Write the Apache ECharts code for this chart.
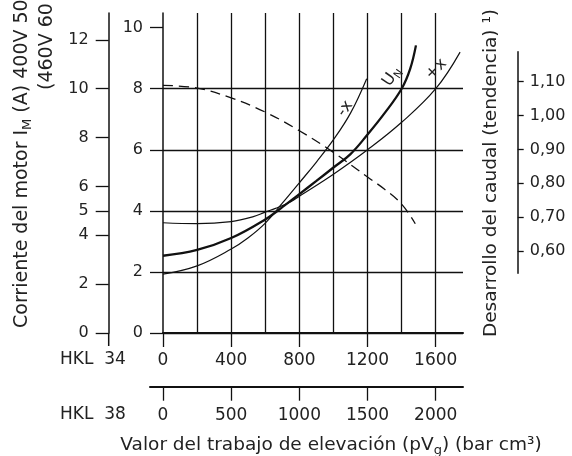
<!DOCTYPE html>
<html>
<head>
<meta charset="utf-8">
<script src="https://cdn.jsdelivr.net/npm/echarts@6/dist/echarts.min.js"></script>
<style>
  html, body { margin: 0; padding: 0; background: #fff; }
  #chart { width: 572px; height: 456px; }
</style>
</head>
<body>
<div id="chart"></div>
<script>
// axis ticks
var hkl34Ticks = [0, 400, 800, 1200, 1600];
var hkl38Ticks = [0, 500, 1000, 1500, 2000];
var innerTicks = [0, 2, 4, 6, 8, 10];
var outerTicks = [0, 2, 4, 5, 6, 8, 10, 12];
var flowTicks = [0.6, 0.7, 0.8, 0.9, 1.0, 1.1];

// curves: [lift work (HKL 34), value]
var minusX = [[0, 1.93], [200, 2.2], [400, 2.75], [500, 3.12], [600, 3.6], [700, 4.25], [800, 4.92],
  [900, 5.6], [1000, 6.33], [1100, 7.2], [1195, 8.33]];
var nominal = [[0, 2.53], [200, 2.72], [400, 3.11], [600, 3.72], [700, 4.12], [800, 4.55], [900, 4.98],
  [1000, 5.42], [1100, 5.86], [1200, 6.5], [1300, 7.2], [1400, 8.0], [1450, 8.65], [1484, 9.42]];
var plusX = [[0, 3.61], [200, 3.58], [400, 3.65], [530, 3.81], [600, 3.96], [660, 4.08], [750, 4.3],
  [800, 4.48], [1000, 5.2], [1200, 6.0], [1400, 6.9], [1600, 8.0], [1743, 9.2]];
var flow = [[0, 1.089], [200, 1.081], [400, 1.052], [600, 1.010], [800, 0.955], [1000, 0.891],
  [1200, 0.818], [1300, 0.782], [1400, 0.738], [1480, 0.68]];

var FONT = 'DejaVu Sans';
var INK = '#222';
var LINE = '#111';
var lbl = { color: INK, fontFamily: FONT, fontSize: 16 };
var xlbl = { color: INK, fontFamily: FONT, fontSize: 17, formatter: function (v) { return String(v); } };
var comma = function (v) { return v.toFixed(2).replace('.', ','); };

var curveLabel = function (coord, rich, rot) {
  return {
    coord: coord,
    symbol: 'circle',
    symbolSize: 0,
    label: {
      show: true, position: 'inside', rotate: rot, formatter: rich,
      color: INK, fontFamily: FONT, fontSize: 16,
      rich: {
        a: { fontFamily: FONT, fontSize: 16, color: INK, lineHeight: 20 },
        s: { fontFamily: FONT, fontSize: 11, color: INK, lineHeight: 10, verticalAlign: 'bottom' }
      }
    }
  };
};

var opts = {
  animation: false,
  grid: [
    { left: 163, top: 13, width: 300, height: 320 },
    { left: 510, top: 51.7, width: 7.7, height: 221.6 },
    { left: 150, top: 380, width: 313, height: 6.7 }
  ],
  xAxis: [
    {
      gridIndex: 0, type: 'value', min: 0, max: 1760,
      axisLine: { lineStyle: { color: LINE, width: 2 } },
      axisTick: { customValues: hkl34Ticks, length: 14, lineStyle: { color: LINE, width: 1.3 } },
      axisLabel: Object.assign({ customValues: hkl34Ticks, margin: 19 }, xlbl),
      splitLine: { show: false }
    },
    { gridIndex: 1, type: 'value', show: false },
    {
      gridIndex: 2, type: 'value', min: -95.3, max: 2200, position: 'bottom',
      axisLine: { onZero: false, lineStyle: { color: LINE, width: 2 } },
      axisTick: { customValues: hkl38Ticks, length: 14, lineStyle: { color: LINE, width: 1.3 } },
      axisLabel: Object.assign({ customValues: hkl38Ticks, margin: 20 }, xlbl),
      splitLine: { show: false }
    },
    {
      // grid lines every 200
      gridIndex: 0, type: 'value', min: 0, max: 1760, interval: 200,
      axisLine: { show: false }, axisTick: { show: false }, axisLabel: { show: false },
      splitLine: { show: true, showMinLine: false, showMaxLine: false, lineStyle: { color: LINE, width: 1.3 } }
    }
  ],
  yAxis: [
    {
      gridIndex: 0, type: 'value', min: 0, max: 10.48, interval: 2, position: 'left',
      axisLine: { show: true, onZero: false, lineStyle: { color: LINE, width: 1.5 } },
      axisTick: { customValues: innerTicks, length: 13, lineStyle: { color: LINE, width: 1.3 } },
      axisLabel: Object.assign({ customValues: innerTicks, margin: 20 }, lbl),
      splitLine: { show: true, showMaxLine: false, lineStyle: { color: LINE, width: 1.3 } }
    },
    {
      gridIndex: 0, type: 'value', min: 0, max: 13.1, position: 'left', offset: 54.3,
      axisLine: { show: true, onZero: false, lineStyle: { color: LINE, width: 1.5 } },
      axisTick: { customValues: outerTicks, length: 13, lineStyle: { color: LINE, width: 1.3 } },
      axisLabel: Object.assign({ customValues: outerTicks, margin: 20 }, lbl),
      splitLine: { show: false }
    },
    {
      gridIndex: 0, type: 'value', min: 0.357, max: 1.303, position: 'right',
      axisLine: { show: false, onZero: false }, axisTick: { show: false }, axisLabel: { show: false },
      splitLine: { show: false },
      name: 'Desarrollo del caudal (tendencia) ¹)', nameLocation: 'middle', nameGap: 19, nameRotate: 90,
      nameTextStyle: { color: INK, fontFamily: FONT, fontSize: 18.5 }
    },
    {
      gridIndex: 1, type: 'value', min: 0.534, max: 1.1886, position: 'right',
      axisLine: { show: true, onZero: false, lineStyle: { color: LINE, width: 1.5 } },
      axisTick: { customValues: flowTicks, length: 6, lineStyle: { color: LINE, width: 1.3 } },
      axisLabel: Object.assign({ customValues: flowTicks, margin: 12, formatter: comma }, lbl),
      splitLine: { show: false }
    },
    { gridIndex: 2, type: 'value', show: false }
  ],
  series: [
    {
      type: 'line', name: '-x', xAxisIndex: 0, yAxisIndex: 0, data: minusX, smooth: 0.4,
      symbol: 'none', lineStyle: { color: LINE, width: 1.2 },
      markPoint: { data: [curveLabel([1068, 7.35], '{a|-x}', 55)] }
    },
    {
      type: 'line', name: 'UN', xAxisIndex: 0, yAxisIndex: 0, data: nominal, smooth: 0.4,
      symbol: 'none', lineStyle: { color: LINE, width: 2.3 },
      markPoint: { data: [curveLabel([1343, 8.4], '{a|U}{s|N}', 55)] }
    },
    {
      type: 'line', name: '+x', xAxisIndex: 0, yAxisIndex: 0, data: plusX, smooth: 0.4,
      symbol: 'none', lineStyle: { color: LINE, width: 1.2 },
      markPoint: { data: [curveLabel([1602, 8.64], '{a|+x}', 45)] }
    },
    {
      type: 'line', name: 'caudal', xAxisIndex: 0, yAxisIndex: 2, data: flow, smooth: 0.4,
      symbol: 'none', lineStyle: { color: LINE, width: 1.3, type: [10, 6] }
    }
  ],
  graphic: [
    { type: 'line', shape: { x1: 108.7, y1: 333, x2: 108.7, y2: 346 }, style: { stroke: LINE, lineWidth: 1.5 } },
    {
      type: 'text', x: 22, y: 328, rotation: Math.PI / 2,
      style: {
        text: '{a|Corriente del motor I}{s|M}{a| (A) 400V 50 Hz}', align: 'left', verticalAlign: 'middle',
        fill: INK, fontFamily: FONT, fontSize: 19,
        rich: {
          a: { fontFamily: FONT, fontSize: 19, fill: INK, lineHeight: 24 },
          s: { fontFamily: FONT, fontSize: 13, fill: INK, lineHeight: 12, verticalAlign: 'bottom' }
        }
      }
    },
    {
      type: 'text', x: 47, y: 90, rotation: Math.PI / 2,
      style: { text: '(460V 60 Hz)', align: 'left', verticalAlign: 'middle', fill: INK, fontFamily: FONT, fontSize: 19 }
    },
    {
      type: 'text', x: 60, y: 360,
      style: { text: 'HKL  34', align: 'left', verticalAlign: 'middle', fill: INK, fontFamily: FONT, fontSize: 17 }
    },
    {
      type: 'text', x: 60, y: 415,
      style: { text: 'HKL  38', align: 'left', verticalAlign: 'middle', fill: INK, fontFamily: FONT, fontSize: 17 }
    },
    {
      type: 'text', x: 331, y: 445,
      style: {
        text: '{a|Valor del trabajo de elevación (pV}{s|g}{a|) (bar cm³)}', align: 'center', verticalAlign: 'middle',
        fill: INK, fontFamily: FONT, fontSize: 18.5,
        rich: {
          a: { fontFamily: FONT, fontSize: 18.5, fill: INK, lineHeight: 24 },
          s: { fontFamily: FONT, fontSize: 13, fill: INK, lineHeight: 12, verticalAlign: 'bottom' }
        }
      }
    }
  ]
};

echarts.init(document.getElementById('chart')).setOption(opts);
</script>
</body>
</html>
